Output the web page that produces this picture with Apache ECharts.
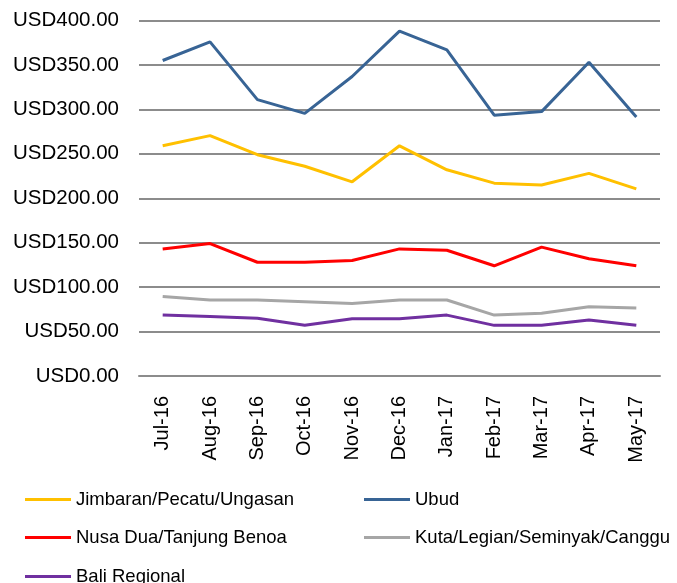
<!DOCTYPE html>
<html><head><meta charset="utf-8">
<script src="https://cdn.jsdelivr.net/npm/echarts@6/dist/echarts.min.js"></script>
<style>html,body{margin:0;padding:0;background:#fff}#c{width:677px;height:583px}</style>
</head><body><div id="c"></div>
<script>
var categories = ["Jul-16","Aug-16","Sep-16","Oct-16","Nov-16","Dec-16","Jan-17","Feb-17","Mar-17","Apr-17","May-17"];
var jimbaran = [259, 270.5, 249, 236, 218.5, 259, 232, 217, 215, 228, 210.5];
var ubud = [355, 376, 311, 295.5, 337, 388, 367, 293.5, 297.5, 353, 291.5];
var nusaDua = [143, 149, 128, 128, 130, 143, 141.5, 124, 145, 132, 124];
var kuta = [89.5, 85.5, 85.5, 83.5, 81.5, 85.5, 85.5, 68.5, 70.5, 78, 76.5];
var bali = [68.5, 67, 65, 57, 64.5, 64.5, 68.5, 57, 57, 63, 57];
var names = ["Jimbaran/Pecatu/Ungasan","Ubud","Nusa Dua/Tanjung Benoa","Kuta/Legian/Seminyak/Canggu","Bali Regional"];
var colors = ["#FFC000","#386495","#FF0000","#A6A6A6","#7030A0"];
var values = [jimbaran, ubud, nusaDua, kuta, bali];

var font = "Liberation Sans, Arial, sans-serif";
var chart = echarts.init(document.getElementById('c'), null, {renderer:'canvas'});
var legendText = {fontFamily: font, fontSize: 18.5, color: '#000'};
var legendPos = [[25,490],[364,490],[25,528],[364,528],[25,567]];
chart.setOption({
  animation: false,
  grid: {left: 139, right: 17, top: 20.5, bottom: 207},
  xAxis: {
    type: 'category', data: categories, boundaryGap: true,
    axisLine: {lineStyle: {color: '#8C8C8C', width: 2}},
    axisTick: {show: false},
    axisLabel: {rotate: 90, fontFamily: font, fontSize: 20, color: '#000', margin: 20, interval: 0}
  },
  yAxis: {
    type: 'value', min: 0, max: 400, interval: 50,
    axisLine: {show: false}, axisTick: {show: false},
    splitLine: {lineStyle: {color: '#8C8C8C', width: 2}},
    axisLabel: {fontFamily: font, fontSize: 20.5, color: '#000', margin: 20,
      formatter: function(v){ return 'USD' + v.toFixed(2); }}
  },
  legend: names.map(function(n, i){
    return {data: [n], left: legendPos[i][0], top: legendPos[i][1], padding: 0,
      itemWidth: 46, itemHeight: 3, itemGap: 0, icon: 'rect', textStyle: legendText};
  }),
  series: values.map(function(v, i){
    return {name: names[i], type: 'line', data: v, symbol: 'none',
      lineStyle: {color: colors[i], width: 3}, itemStyle: {color: colors[i]}};
  })
});
</script></body></html>
